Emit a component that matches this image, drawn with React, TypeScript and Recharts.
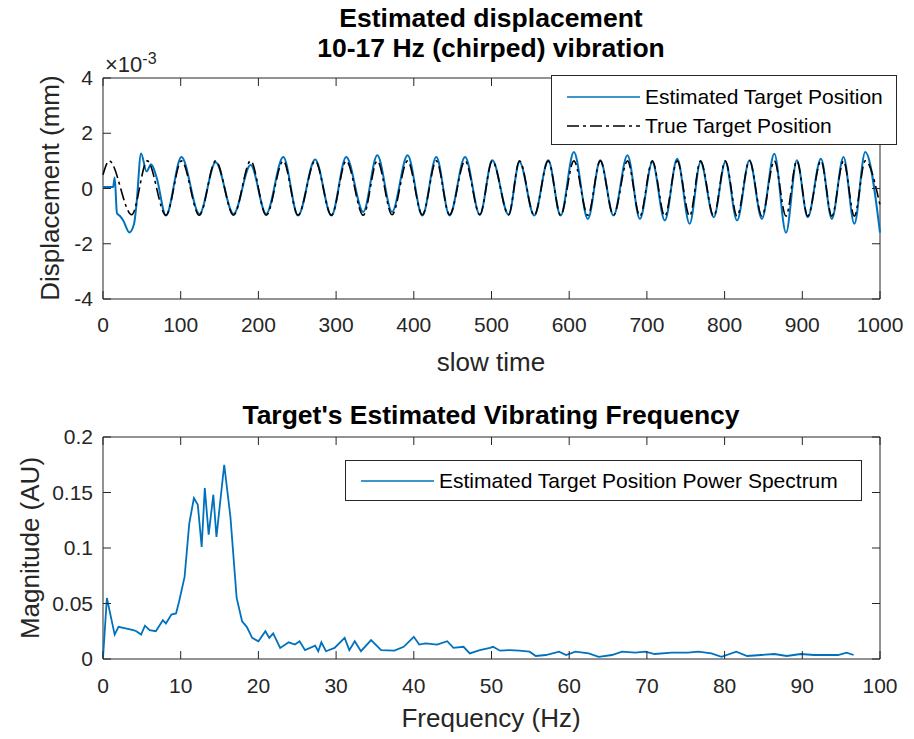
import { LineChart, Line, XAxis, YAxis, ReferenceArea, Legend } from "recharts";

// top panel: slow time samples vs displacement (values in units of 1e-3 mm)
const trueTime = [0, 8, 37, 57, 81, 101, 124, 145, 168, 190, 210, 232, 251, 273, 294, 313, 335, 353, 372, 392, 411, 429, 446, 466, 485, 501, 522, 536, 555, 573, 589, 606, 624, 640, 657, 675, 691, 707, 723, 739, 755, 769, 786, 801, 816, 832, 848, 864, 879, 893, 907, 924, 938, 953, 967, 981, 1000];
const trueDisp = [0.5, 1.0, -0.95, 1.0, -0.97, 1.0, -0.97, 1.0, -0.97, 1.0, -0.97, 1.0, -0.97, 1.0, -0.97, 1.0, -0.97, 1.0, -0.95, 1.0, -0.95, 1.0, -0.95, 1.0, -0.95, 1.0, -0.95, 1.0, -0.97, 1.0, -0.97, 1.0, -0.97, 1.0, -0.97, 1.0, -1.0, 1.0, -1.0, 1.0, -1.0, 1.0, -1.0, 1.0, -1.0, 1.0, -1.0, 1.0, -1.0, 1.0, -1.0, 1.0, -1.0, 1.0, -1.0, 1.0, -0.6];

const estTime = [0, 13, 15, 18, 22, 26, 34, 40, 43, 49, 56, 62, 69, 81, 101, 124, 145, 168, 190, 210, 232, 251, 273, 294, 313, 335, 353, 372, 392, 411, 429, 446, 466, 485, 501, 522, 536, 555, 573, 589, 606, 624, 640, 657, 675, 691, 707, 723, 739, 755, 769, 786, 801, 816, 832, 848, 864, 879, 893, 907, 924, 938, 953, 967, 981, 1000];
const estDisp = [0.05, 0.05, 0.4, -0.9, -1.0, -1.16, -1.59, -1.28, -0.6, 1.27, 0.62, 0.88, 0.4, -0.98, 1.14, -0.92, 0.95, -0.92, 0.85, -0.92, 1.14, -0.98, 1.05, -0.98, 1.14, -0.85, 1.2, -0.85, 1.2, -0.98, 1.14, -0.98, 1.14, -0.95, 1.02, -0.95, 0.96, -0.98, 1.02, -0.98, 1.32, -1.1, 1.02, -0.98, 1.2, -1.1, 0.96, -1.16, 1.08, -1.28, 0.96, -1.04, 0.96, -1.16, 1.02, -1.1, 1.26, -1.6, 1.02, -1.04, 1.08, -1.1, 1.14, -1.28, 1.32, -1.6];

const timeTicks = [0, 100, 200, 300, 400, 500, 600, 700, 800, 900, 1000];
const dispTicks = [-4, -2, 0, 2, 4];

// bottom panel: power spectrum
const freqHz = [0, 0.5, 1.5, 2.0, 2.6, 3.9, 4.3, 4.9, 5.4, 6.0, 6.8, 7.7, 8.1, 8.8, 9.4, 9.8, 10.5, 11.1, 11.7, 12.2, 12.7, 13.1, 13.6, 14.2, 14.6, 15.6, 16.4, 17.2, 17.9, 18.5, 19.2, 20.0, 20.9, 21.4, 21.9, 22.8, 23.9, 24.7, 25.3, 26.0, 27.3, 27.7, 28.1, 28.7, 29.8, 31.1, 31.7, 32.4, 33.2, 34.5, 35.8, 37.5, 38.7, 40.0, 40.7, 41.5, 43.0, 44.3, 45.1, 46.4, 47.2, 48.5, 49.8, 50.2, 51.1, 52.3, 53.6, 54.9, 55.7, 57.0, 58.7, 59.6, 60.8, 62.5, 63.8, 65.5, 66.8, 68.5, 69.8, 71.0, 73.2, 75.3, 76.6, 78.3, 79.6, 81.5, 82.9, 84.7, 86.4, 88.0, 89.8, 91.5, 93.1, 94.6, 95.7, 96.6];
const magnitude = [0.001, 0.055, 0.022, 0.029, 0.028, 0.026, 0.025, 0.022, 0.030, 0.026, 0.025, 0.035, 0.032, 0.040, 0.041, 0.052, 0.074, 0.122, 0.145, 0.139, 0.101, 0.154, 0.112, 0.148, 0.110, 0.175, 0.128, 0.055, 0.034, 0.029, 0.019, 0.016, 0.025, 0.019, 0.023, 0.010, 0.015, 0.013, 0.016, 0.008, 0.012, 0.007, 0.015, 0.007, 0.010, 0.019, 0.008, 0.016, 0.007, 0.017, 0.008, 0.0075, 0.011, 0.020, 0.013, 0.014, 0.013, 0.016, 0.010, 0.011, 0.005, 0.008, 0.010, 0.011, 0.0075, 0.008, 0.0075, 0.0066, 0.0027, 0.0036, 0.0066, 0.0036, 0.0066, 0.005, 0.002, 0.0036, 0.0066, 0.0057, 0.0066, 0.0045, 0.0057, 0.0057, 0.0066, 0.005, 0.002, 0.0066, 0.0027, 0.0036, 0.0045, 0.0027, 0.0045, 0.0036, 0.0036, 0.0036, 0.0057, 0.0036];

const freqTicks = [0, 10, 20, 30, 40, 50, 60, 70, 80, 90, 100];
const magTicks = [0, 0.05, 0.1, 0.15, 0.2];

const BLUE = "#0072BD";
const AXIS = "#262626";
const FONT = '"Liberation Sans", Arial, Helvetica, sans-serif';
const DASHDOT = "12 4 3 4";

const PLOT_W = 777;
const TOP_H = 221;
const BOT_H = 222;

const trueData = trueTime.map((t, i) => ({ t, v: trueDisp[i] }));
const estData = estTime.map((t, i) => ({ t, v: estDisp[i] }));
const specData = freqHz.map((f, i) => ({ f, m: magnitude[i] }));

function xTick(plotH: number, dy: number) {
  return (props: any) => {
    const { x, y, payload } = props;
    return (
      <g>
        <line x1={x} y1={y} x2={x} y2={y - 8} stroke={AXIS} />
        <line x1={x} y1={y - plotH} x2={x} y2={y - plotH + 8} stroke={AXIS} />
        <text x={x} y={y + dy} textAnchor="middle" fontSize={21} fill={AXIS} fontFamily={FONT}>
          {payload.value}
        </text>
      </g>
    );
  };
}

function yTick(props: any) {
  const { x, y, payload } = props;
  return (
    <g>
      <line x1={x} y1={y} x2={x + 8} y2={y} stroke={AXIS} />
      <line x1={x + PLOT_W} y1={y} x2={x + PLOT_W - 8} y2={y} stroke={AXIS} />
      <text x={x - 10} y={y + 7} textAnchor="end" fontSize={21} fill={AXIS} fontFamily={FONT}>
        {payload.value}
      </text>
    </g>
  );
}

function Text({ x, y, size, bold, rotate, children }: any) {
  return (
    <div
      style={{
        position: "absolute",
        left: x,
        top: y,
        transform: `translate(-50%, -50%)${rotate ? " rotate(-90deg)" : ""}`,
        whiteSpace: "nowrap",
        fontSize: size,
        fontWeight: bold ? "bold" : "normal",
        lineHeight: 1,
        color: bold ? "#000" : AXIS,
      }}
    >
      {children}
    </div>
  );
}

function LegendRow({ top, dash, color, label }: any) {
  return (
    <div style={{ position: "absolute", left: 0, top, height: 24, display: "flex", alignItems: "center" }}>
      <svg width={90} height={24}>
        <line x1={15} y1={12} x2={88} y2={12} stroke={color} strokeWidth={1.6} strokeDasharray={dash} />
      </svg>
      <span style={{ fontSize: 21, color: "#000", marginLeft: 3 }}>{label}</span>
    </div>
  );
}

const topLegend = () => (
  <div style={{ position: "relative", boxSizing: "border-box", width: 346, height: 70, border: `1px solid ${AXIS}`, background: "#fff", fontFamily: FONT }}>
    <LegendRow top={9} color={BLUE} label="Estimated Target Position" />
    <LegendRow top={38} color="#000" dash={DASHDOT} label="True Target Position" />
  </div>
);

const bottomLegend = () => (
  <div style={{ position: "relative", boxSizing: "border-box", width: 517, height: 41, border: `1px solid ${AXIS}`, background: "#fff", fontFamily: FONT }}>
    <LegendRow top={8} color={BLUE} label="Estimated Target Position Power Spectrum" />
  </div>
);

export default function App() {
  return (
    <div style={{ position: "absolute", left: 0, top: 0, width: 914, height: 739, background: "#fff", fontFamily: FONT }}>
      <Text x={491} y={18} size={26.5} bold>Estimated displacement</Text>
      <Text x={491} y={48} size={26.5} bold>10-17 Hz (chirped) vibration</Text>
      <div style={{ position: "absolute", left: 105, top: 51, fontSize: 22, color: AXIS, lineHeight: 1 }}>
        ×10<sup style={{ fontSize: 16 }}>-3</sup>
      </div>

      <div style={{ position: "absolute", left: 0, top: 0 }}>
        <LineChart width={914} height={380} margin={{ top: 78, right: 34, bottom: 51, left: 43 }}>
          <XAxis dataKey="t" type="number" domain={[0, 1000]} ticks={timeTicks} interval={0} height={30} tickSize={0} tickMargin={0} axisLine={false} tickLine={false} tick={xTick(TOP_H, 33)} />
          <YAxis type="number" domain={[-4, 4]} ticks={dispTicks} interval={0} width={60} tickSize={0} tickMargin={0} axisLine={false} tickLine={false} tick={yTick} />
          <ReferenceArea x1={0} x2={1000} y1={-4} y2={4} fill="none" stroke={AXIS} strokeWidth={1} />
          <Line data={estData} dataKey="v" type="monotone" stroke={BLUE} strokeWidth={2} dot={false} isAnimationActive={false} />
          <Line data={trueData} dataKey="v" type="monotone" stroke="#000" strokeWidth={1.6} strokeDasharray={DASHDOT} dot={false} isAnimationActive={false} />
          <Legend layout="vertical" align="center" verticalAlign="middle" content={topLegend} wrapperStyle={{ left: 551, top: 75, width: 346, height: 70 }} />
        </LineChart>
      </div>
      <Text x={491} y={362} size={26}>slow time</Text>
      <Text x={50} y={188} size={26} rotate>Displacement (mm)</Text>

      <Text x={491} y={415} size={26.5} bold>Target's Estimated Vibrating Frequency</Text>
      <div style={{ position: "absolute", left: 0, top: 380 }}>
        <LineChart width={914} height={359} margin={{ top: 57, right: 34, bottom: 50, left: 43 }}>
          <XAxis dataKey="f" type="number" domain={[0, 100]} ticks={freqTicks} interval={0} height={30} tickSize={0} tickMargin={0} axisLine={false} tickLine={false} tick={xTick(BOT_H, 34)} />
          <YAxis type="number" domain={[0, 0.2]} ticks={magTicks} interval={0} width={60} tickSize={0} tickMargin={0} axisLine={false} tickLine={false} tick={yTick} />
          <ReferenceArea x1={0} x2={100} y1={0} y2={0.2} fill="none" stroke={AXIS} strokeWidth={1} />
          <Line data={specData} dataKey="m" type="linear" stroke={BLUE} strokeWidth={1.8} dot={false} isAnimationActive={false} />
          <Legend layout="vertical" align="center" verticalAlign="middle" content={bottomLegend} wrapperStyle={{ left: 345, top: 80, width: 517, height: 41 }} />
        </LineChart>
      </div>
      <Text x={491} y={718} size={26}>Frequency (Hz)</Text>
      <Text x={30} y={548} size={26} rotate>Magnitude (AU)</Text>
    </div>
  );
}
